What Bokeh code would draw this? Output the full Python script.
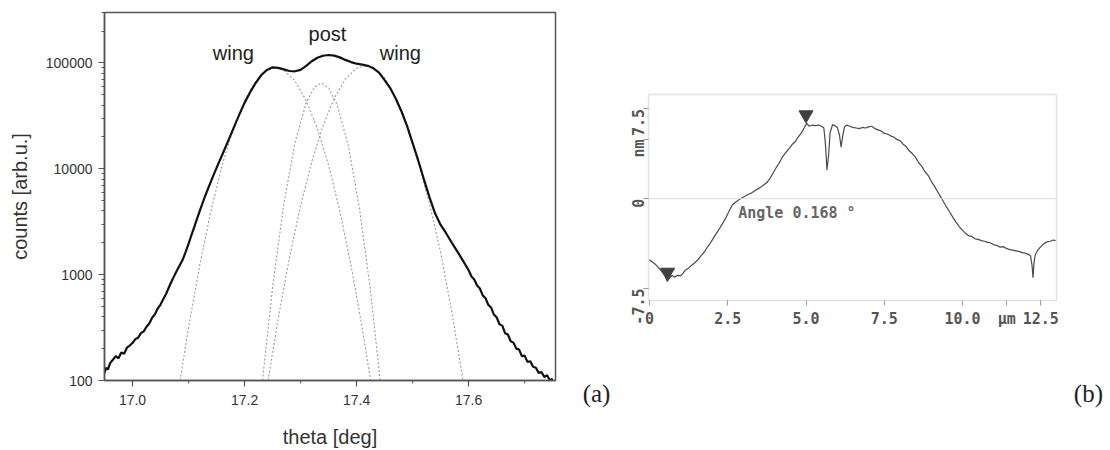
import math
from bokeh.plotting import figure
from bokeh.layouts import row
from bokeh.models import FixedTicker, Label, Range1d, Span, PrintfTickFormatter, CustomJSTickFormatter
from bokeh.embed import file_html
from bokeh.resources import INLINE

# ---------------- panel (a): rocking curve, log scale ----------------
theta_main = [16.950, 16.953, 16.956, 16.960, 16.965, 16.970, 16.975, 16.980, 16.985, 16.990,
              16.995, 17.000, 17.005, 17.010, 17.015, 17.020, 17.025, 17.030, 17.035, 17.040,
              17.045, 17.050, 17.055, 17.060, 17.065, 17.070, 17.075, 17.080, 17.085, 17.090,
              17.095, 17.100, 17.105, 17.110, 17.115, 17.120, 17.130, 17.140, 17.150, 17.160,
              17.170, 17.180, 17.190, 17.200, 17.210, 17.220, 17.230, 17.240, 17.250, 17.260,
              17.270, 17.280, 17.290, 17.300, 17.310, 17.320, 17.330, 17.340, 17.350, 17.360,
              17.370, 17.380, 17.390, 17.400, 17.410, 17.420, 17.430, 17.440, 17.450, 17.460,
              17.470, 17.480, 17.490, 17.500, 17.510, 17.520, 17.530, 17.540, 17.550, 17.560,
              17.570, 17.580, 17.590, 17.600, 17.605, 17.610, 17.615, 17.620, 17.625, 17.630,
              17.635, 17.640, 17.645, 17.650, 17.655, 17.660, 17.665, 17.670, 17.675, 17.680,
              17.685, 17.690, 17.695, 17.700, 17.705, 17.710, 17.715, 17.720, 17.725, 17.730,
              17.735, 17.740, 17.745, 17.750]
counts_main = [118, 132, 127, 146, 157, 170, 162, 184, 179, 204,
               214, 226, 246, 254, 280, 291, 322, 346, 392, 422,
               478, 522, 590, 660, 760, 870, 985, 1110, 1250, 1400,
               1650, 1950, 2350, 2800, 3350, 4000, 5600, 7600, 10200, 13500,
               18000, 24000, 32000, 42000, 53000, 65000, 77000, 86000, 91000, 90000,
               87000, 84000, 83500, 86000, 94000, 104000, 112000, 117000, 119000, 117500,
               113000, 107000, 102000, 98500, 96500, 94000, 89000, 81000, 69000, 58000,
               46000, 35000, 25500, 17500, 12000, 8000, 5400, 3800, 2950, 2450,
               2000, 1650, 1350, 1100, 960, 900, 790, 740, 640, 600,
               520, 490, 420, 395, 340, 330, 280, 272, 235, 228,
               200, 196, 170, 172, 150, 152, 135, 132, 118, 120,
               108, 112, 100, 104]

wing_left_theta = [17.085, 17.10, 17.12, 17.14, 17.16, 17.18, 17.20, 17.22, 17.24, 17.255,
                   17.27, 17.29, 17.31, 17.33, 17.35, 17.37, 17.39, 17.41, 17.425]
wing_left_counts = [100, 316, 1230, 4000, 10800, 24000, 44200, 67600, 85500, 90200,
                    85500, 67600, 44200, 24000, 10800, 4000, 1230, 316, 100]

post_theta = [17.232, 17.25, 17.27, 17.29, 17.31, 17.325, 17.337, 17.35, 17.365, 17.385,
              17.405, 17.425, 17.442]
post_counts = [100, 760, 4630, 17700, 42100, 59300, 64600, 58500, 40700, 16700,
               4280, 690, 100]

wing_right_theta = [17.242, 17.26, 17.28, 17.30, 17.32, 17.34, 17.36, 17.38, 17.40, 17.416,
                    17.43, 17.45, 17.47, 17.49, 17.51, 17.53, 17.55, 17.57, 17.59]
wing_right_counts = [100, 383, 1435, 4500, 11700, 25500, 46400, 70500, 89100, 94400,
                     90400, 72600, 46000, 25000, 11500, 4700, 1625, 442, 100]

x_ticks_a = [17.0, 17.2, 17.4, 17.6]
x_minor_a = [17.1, 17.3, 17.5, 17.7]
y_ticks_a = [100, 1000, 10000, 100000]

peak_labels = ["wing", "post", "wing"]
peak_label_theta = [17.18, 17.348, 17.478]
peak_label_counts = [124000, 188000, 124000]

# ---------------- panel (b): AFM height profile ----------------
pos_um = [0.00, 0.10, 0.20, 0.30, 0.40, 0.50, 0.57, 0.65, 0.72, 0.80,
          0.90, 1.00, 1.08, 1.15, 1.25, 1.35, 1.45, 1.55, 1.65, 1.75,
          1.85, 1.95, 2.05, 2.15, 2.25, 2.35, 2.45, 2.55, 2.65, 2.75,
          2.85, 2.95, 3.05, 3.15, 3.25, 3.35, 3.45, 3.55, 3.65, 3.75,
          3.85, 3.95, 4.05, 4.15, 4.25, 4.35, 4.45, 4.55, 4.65, 4.75,
          4.85, 4.95, 5.02, 5.10, 5.20, 5.30, 5.40, 5.50, 5.57, 5.62,
          5.67, 5.72, 5.77, 5.85, 5.92, 6.00, 6.07, 6.12, 6.17, 6.23,
          6.30, 6.40, 6.50, 6.60, 6.70, 6.80, 6.90, 7.00, 7.10, 7.20,
          7.30, 7.40, 7.50, 7.60, 7.70, 7.80, 7.90, 8.00, 8.10, 8.20,
          8.30, 8.40, 8.50, 8.60, 8.70, 8.80, 8.90, 9.00, 9.10, 9.20,
          9.30, 9.40, 9.50, 9.60, 9.70, 9.80, 9.90, 10.00, 10.10, 10.20,
          10.30, 10.40, 10.50, 10.60, 10.70, 10.80, 10.90, 11.00, 11.10, 11.20,
          11.30, 11.40, 11.50, 11.60, 11.70, 11.80, 11.90, 12.00, 12.10, 12.17,
          12.22, 12.25, 12.28, 12.32, 12.40, 12.50, 12.60, 12.70, 12.80, 12.90,
          12.97]
height_nm = [-5.1, -5.3, -5.5, -5.8, -6.1, -6.5, -6.9, -6.6, -6.4, -6.55,
             -6.4, -6.45, -6.2, -5.95, -5.8, -5.55, -5.35, -5.1, -4.75, -4.45,
             -4.05, -3.7, -3.25, -2.85, -2.45, -2.0, -1.55, -1.0, -0.5, -0.3,
             -0.1, 0.05, 0.2, 0.35, 0.45, 0.65, 0.8, 0.95, 1.15, 1.35,
             1.7, 2.15, 2.6, 3.0, 3.5, 3.85, 4.15, 4.5, 4.75, 5.15,
             5.5, 5.95, 6.3, 6.05, 6.15, 6.1, 6.15, 6.05, 5.9, 4.6,
             2.4, 3.6, 5.5, 6.2, 6.1, 5.95, 5.3, 4.3, 5.2, 6.0,
             6.15, 6.05, 5.95, 5.9, 5.85, 5.95, 5.9, 6.0, 6.05, 5.85,
             5.75, 5.65, 5.45, 5.4, 5.25, 5.15, 4.95, 4.85, 4.55, 4.35,
             4.0, 3.75, 3.45, 3.0, 2.7, 2.25, 1.95, 1.45, 1.05, 0.6,
             0.15, -0.3, -0.75, -1.15, -1.6, -2.0, -2.35, -2.65, -2.9, -3.1,
             -3.15, -3.35, -3.4, -3.5, -3.55, -3.65, -3.7, -3.85, -3.9, -4.05,
             -4.0, -4.15, -4.25, -4.3, -4.35, -4.4, -4.5, -4.55, -4.65, -4.75,
             -5.6, -6.6, -5.4, -4.7, -4.3, -4.0, -3.75, -3.6, -3.55, -3.45,
             -3.5]
marker_x = [0.58, 5.0]
marker_y = [-6.14, 7.0]
x_ticks_b = [0, 2.5, 5.0, 7.5, 10.0, 12.5]
x_tick_labels_b = ["0", "2.5", "5.0", "7.5", "10.0", "12.5"]
y_ticks_b = [-7.5, 0, 7.5]
y_tick_labels_b = ["-7.5", "0", "7.5"]
x_unit, x_unit_pos = "µm", 11.41
y_unit, y_unit_pos = "nm", 4.95

GREY = "#555555"
SANS = "Liberation Sans"
MONO = "DejaVu Sans Mono"
H = 450

# ---------------- figure (a) ----------------
pa = figure(width=565, height=H, y_axis_type="log",
            x_range=Range1d(16.95, 17.755), y_range=Range1d(100, 300000),
            output_backend="svg", toolbar_location=None,
            min_border_left=104, min_border_right=10, min_border_top=12, min_border_bottom=70)
pa.frame_align = False
pa.grid.visible = False
pa.outline_line_color = GREY
pa.outline_line_width = 1.5

for th, ct in ((wing_left_theta, wing_left_counts), (post_theta, post_counts),
               (wing_right_theta, wing_right_counts)):
    pa.line(th, ct, line_color="#9a9a9a", line_width=1.1, line_dash="2 2")
pa.line(theta_main, counts_main, line_color="#111111", line_width=2.2)

pa.xaxis.ticker = FixedTicker(ticks=x_ticks_a, minor_ticks=x_minor_a)
pa.yaxis.ticker = FixedTicker(ticks=y_ticks_a,
                              minor_ticks=[m * t for t in y_ticks_a for m in range(2, 10) if m * t <= 300000])
pa.xaxis.formatter = PrintfTickFormatter(format="%.1f")
pa.yaxis.formatter = PrintfTickFormatter(format="%d")
pa.xaxis.axis_label = "theta [deg]"
pa.yaxis.axis_label = "counts [arb.u.]"
for ax in (pa.xaxis[0], pa.yaxis[0]):
    ax.axis_line_color = GREY
    ax.axis_line_width = 1.5
    ax.major_tick_line_color = GREY
    ax.major_tick_line_width = 1.2
    ax.major_tick_out = 6
    ax.major_tick_in = 0
    ax.minor_tick_line_color = GREY
    ax.minor_tick_line_width = 1.0
    ax.minor_tick_out = 3
    ax.minor_tick_in = 0
    ax.major_label_text_font = SANS
    ax.major_label_text_font_size = "14px"
    ax.major_label_text_color = "#333333"
    ax.major_label_standoff = 6
    ax.axis_label_text_font = SANS
    ax.axis_label_text_font_size = "20px"
    ax.axis_label_text_font_style = "normal"
    ax.axis_label_text_color = "#333333"
pa.xaxis.major_label_standoff = 8
pa.xaxis.axis_label_standoff = 18
pa.yaxis.axis_label_standoff = 12

for txt, tx, cy in zip(peak_labels, peak_label_theta, peak_label_counts):
    pa.add_layout(Label(x=tx, y=cy, text=txt, text_font=SANS, text_font_size="20px",
                        text_color="#222222", text_align="center", text_baseline="middle"))


def tag_figure(width, text, x_frac, y_frac):
    """Small axis-less figure that carries a panel tag such as (a)."""
    f = figure(width=width, height=H, x_range=Range1d(0, 1), y_range=Range1d(0, 1),
               output_backend="svg", toolbar_location=None,
               min_border=0, min_border_left=0, min_border_right=0,
               min_border_top=0, min_border_bottom=0)
    f.frame_align = False
    f.axis.visible = False
    f.grid.visible = False
    f.outline_line_color = None
    f.add_layout(Label(x=x_frac, y=y_frac, text=text, text_font="Liberation Serif",
                       text_font_size="25px", text_color="#222222",
                       text_align="center", text_baseline="middle"))
    return f


la = tag_figure(53, "(a)", 0.585, 0.127)

# ---------------- figure (b) ----------------
LIGHT = "#e2e2e2"
pb = figure(width=444, height=H, x_range=Range1d(-0.03, 13.0), y_range=Range1d(-8.5, 8.7),
            output_backend="svg", toolbar_location=None,
            min_border_left=28, min_border_right=6, min_border_top=94, min_border_bottom=150)
pb.frame_align = False
pb.grid.visible = False
pb.outline_line_color = LIGHT
pb.outline_line_width = 1.5
pb.add_layout(Span(location=0, dimension="width", line_color="#dddddd", line_width=1))
pb.line(pos_um, height_nm, line_color="#4a4a4a", line_width=1.2)
pb.scatter(marker_x, marker_y, marker="inverted_triangle", size=14,
           fill_color="#3f3f3f", line_color="#3f3f3f")

fmt_code = ("const i = tick_vals.findIndex(t => Math.abs(t - tick) < 1e-9);"
            "return i >= 0 ? tick_text[i] : tick.toFixed(1);")
pb.xaxis.ticker = FixedTicker(ticks=x_ticks_b + [x_unit_pos], minor_ticks=[])
pb.yaxis.ticker = FixedTicker(ticks=y_ticks_b + [y_unit_pos], minor_ticks=[])
pb.xaxis.formatter = CustomJSTickFormatter(
    args=dict(tick_vals=x_ticks_b + [x_unit_pos], tick_text=x_tick_labels_b + [x_unit]), code=fmt_code)
pb.yaxis.formatter = CustomJSTickFormatter(
    args=dict(tick_vals=y_ticks_b + [y_unit_pos], tick_text=y_tick_labels_b + [y_unit]), code=fmt_code)
pb.yaxis.major_label_orientation = math.pi / 2
for ax in (pb.xaxis[0], pb.yaxis[0]):
    ax.axis_line_color = LIGHT
    ax.major_tick_line_color = "#9a9a9a"
    ax.major_tick_out = 5
    ax.major_tick_in = 0
    ax.minor_tick_line_color = None
    ax.major_label_text_font = MONO
    ax.major_label_text_font_style = "bold"
    ax.major_label_text_font_size = "15px"
    ax.major_label_text_color = GREY
    ax.major_label_standoff = 4

pb.add_layout(Label(x=2.835, y=-1.22, text="Angle 0.168 °", text_font=MONO, text_font_style="bold",
                    text_font_size="15px", text_color="#666666",
                    text_align="left", text_baseline="middle"))

lb = tag_figure(48, "(b)", 0.54, 0.127)

layout = row(pa, la, pb, lb)
open("out.html", "w").write(file_html(layout, INLINE))
